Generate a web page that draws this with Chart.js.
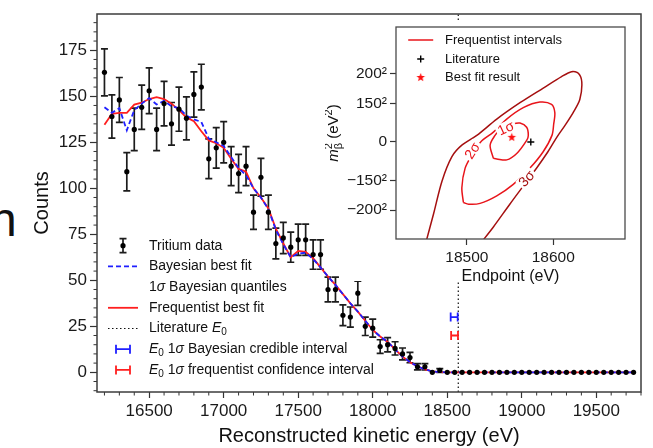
<!DOCTYPE html>
<html>
<head>
<meta charset="utf-8">
<script src="https://cdn.jsdelivr.net/npm/chart.js@4.4.1/dist/chart.umd.min.js"></script>
<style>
  html, body { margin: 0; padding: 0; background: #fff; }
  #wrap { position: relative; width: 653px; height: 448px; overflow: hidden; }
  #main { position: absolute; left: 0; top: 0; }
  #inset { position: absolute; left: 325px; top: 21px; }
  #frag { position: absolute; left: -10px; top: 196px; font: 48px 'Liberation Sans', Arial, sans-serif; line-height: 48px; color: #111; }
</style>
</head>
<body>
<div id="wrap">
  <span id="frag">n</span>
  <canvas id="main" width="653" height="448"></canvas>
  <canvas id="inset" width="315" height="265"></canvas>
</div>
<script>
const FONT = "'Liberation Sans', Arial, Helvetica, sans-serif";

// ---- main spectrum ----
const energy = [
  16200, 16250, 16300, 16350, 16400, 16450, 16500, 16550, 16600, 16650,
  16700, 16750, 16800, 16850, 16900, 16950, 17000, 17050, 17100, 17150,
  17200, 17250, 17300, 17350, 17400, 17450, 17500, 17550, 17600, 17650,
  17700, 17750, 17800, 17850, 17900, 17950, 18000, 18050, 18100, 18150,
  18200, 18250, 18300, 18350, 18400, 18450, 18500, 18550, 18600, 18650,
  18700, 18750, 18800, 18850, 18900, 18950, 19000, 19050, 19100, 19150,
  19200, 19250, 19300, 19350, 19400, 19450, 19500, 19550, 19600, 19650,
  19700, 19750
];
const counts = [
  163, 139, 148, 109, 132, 144, 153, 132, 146, 135,
  143, 138, 151, 155, 116, 122, 125, 112, 108, 112,
  87, 106, 87, 70, 73, 68, 72, 72, 64, 64,
  45, 45, 31, 30, 43, 25, 24, 14, 15, 13,
  10, 8, 3, 3, 0, 1, 0, 0, 0, 0,
  0, 0, 0, 0, 0, 0, 0, 0, 0, 0,
  0, 0, 0, 0, 0, 0, 0, 0, 0, 0,
  0, 0
];
const countErr = [
  12.8, 11.8, 12.2, 10.4, 11.5, 12.0, 12.4, 11.5, 12.1, 11.6,
  12.0, 11.7, 12.3, 12.4, 10.8, 11.0, 11.2, 10.6, 10.4, 10.6,
  9.3, 10.3, 9.3, 8.4, 8.5, 8.2, 8.5, 8.5, 8.0, 8.0,
  6.7, 6.7, 5.6, 5.5, 6.6, 5.0, 4.9, 3.7, 3.9, 3.6,
  3.2, 2.8, 1.7, 1.7, 0, 1.0, 0, 0, 0, 0,
  0, 0, 0, 0, 0, 0, 0, 0, 0, 0,
  0, 0, 0, 0, 0, 0, 0, 0, 0, 0,
  0, 0
];
const freqFit = [
  134.5, 140.5, 141, 141, 145.5, 146.5, 148.5, 149.5, 148.5, 146,
  142.5, 138.5, 136.5, 131, 126, 124.5, 122, 116, 110.5, 109,
  100, 95, 89, 78, 70, 62.5, 66, 65.5, 62, 57,
  52, 47.5, 42.5, 37.5, 33, 28, 23, 19.5, 16.5, 12.5,
  8.5, 5.5, 3.2, 1.6, 0.5, 0.1, 0, 0, 0, 0,
  0, 0, 0, 0, 0, 0, 0, 0, 0, 0,
  0, 0, 0, 0, 0, 0, 0, 0, 0, 0,
  0, 0
];
const bayesFit = [
  144, 141, 143.5, 131.5, 142.5, 146, 149, 145.5, 147.5, 144.5,
  143.5, 139.5, 137.5, 136, 127, 125, 123, 117, 111, 107,
  100, 95, 88.5, 77.5, 69.5, 62.5, 64.5, 65, 61.5, 57,
  52, 47.5, 42.5, 37.5, 33, 28, 23, 19.5, 16.5, 12.5,
  8.5, 5.5, 3.2, 1.6, 0.5, 0.1, 0, 0, 0, 0,
  0, 0, 0, 0, 0, 0, 0, 0, 0, 0,
  0, 0, 0, 0, 0, 0, 0, 0, 0, 0,
  0, 0
];
const literatureE0 = 18574;
const bayesE0 = [18523, 18570];   // 1 sigma credible interval
const freqE0 = [18526, 18572];    // 1 sigma confidence interval
const bayesE0Row = 30;            // height (counts) the interval marks sit at
const freqE0Row = 20;

const xRange = [16150, 19800];
const yRange = [-10.7, 194.7];
const xTicks = [16500, 17000, 17500, 18000, 18500, 19000, 19500];
const yTicks = [0, 25, 50, 75, 100, 125, 150, 175];

// ---- inset: endpoint vs neutrino mass squared ----
const sigma1 = [
  [18530.7, -9600], [18526.9, -1900], [18532.6, 3850], [18538.4, 6900], [18553.7, 10520],
  [18561.5, 11090], [18569.2, 8620], [18571.1, 3850], [18569.2, 980], [18557.7, -6720],
  [18546.1, -10520], [18534.6, -9940], [18530.7, -9600]
];
const sigma2 = [
  [18496, -35500], [18494.2, -26840], [18498, -15340], [18505.8, -7640], [18516, 0],
  [18530.7, 5750], [18546.1, 13390], [18565.3, 20110], [18584.5, 23390], [18598, 22010],
  [18601.8, 17240], [18600.5, 10520], [18598.5, 3850], [18588.3, -5750], [18573, -15340],
  [18553.7, -24880], [18534.6, -31610], [18515.3, -36030], [18502, -36500], [18496, -35500]
];
const sigma3 = [
  [18452, -60000], [18461.5, -42130], [18471.2, -22990], [18482.7, -8620], [18494.2, -1900],
  [18511.5, 3850], [18534.6, 13390], [18561.5, 22990], [18588.4, 31610], [18609.6, 38330],
  [18621.1, 41210], [18629, 40300], [18633, 35060], [18630.7, 24880], [18623, 17240],
  [18613.4, 9600], [18604.2, 2870], [18593.8, -5750], [18581.2, -14940], [18549.9, -36380],
  [18530.7, -49830], [18515, -60000]
];
const literaturePoint = [18574, 0];
const bestFitPoint = [18552, 2700];
const contourLabels = [
  { text: '1σ', x: 18545, y: 8300, angle: -25, color: '#e8141a' },
  { text: '2σ', x: 18506, y: -5000, angle: -58, color: '#e8141a' },
  { text: '3σ', x: 18569, y: -21400, angle: -48, color: '#a50f0f' }
];
const insetXRange = [18418, 18683];
const insetYRange = [-56900, 67400];
const insetXTicks = [18500, 18600];
const insetYTicks = [-40000, -22500, 0, 22500, 40000];
const insetYLabels = ['−200²', '−150²', '0', '150²', '200²'];

const RED = '#ff1f1f';
const BLUE = '#1f1fff';
const pts = (xs, ys) => xs.map((x, i) => ({ x: x, y: ys[i] }));
const pairs = arr => arr.map(p => ({ x: p[0], y: p[1] }));

// draw a run of text pieces: [text, style] with style n / i / sub / sup / supback
function drawRich(ctx, segs, x, y, size, align) {
  const fontFor = st => (st === 'i' ? 'italic ' : '') +
    (st === 'sub' || st === 'sup' || st === 'supback' ? Math.round(size * 0.7) : size) + 'px ' + FONT;
  const placed = [];
  let cx = 0, prevStart = 0;
  segs.forEach(s => {
    ctx.font = fontFor(s[1]);
    const w = ctx.measureText(s[0]).width;
    if (s[1] === 'supback') {
      placed.push([s, prevStart]);
      cx = Math.max(cx, prevStart + w);
    } else {
      placed.push([s, cx]);
      prevStart = cx;
      cx += w;
    }
  });
  const x0 = align === 'center' ? x - cx / 2 : x;
  placed.forEach(([s, off]) => {
    ctx.font = fontFor(s[1]);
    const dy = s[1] === 'sub' ? size * 0.3 : (s[1] === 'sup' || s[1] === 'supback') ? -size * 0.35 : 0;
    ctx.fillText(s[0], x0 + off, y + dy);
  });
}

function starCanvas(r, color) {
  const c = document.createElement('canvas');
  c.width = c.height = Math.ceil(r * 2 + 2);
  const g = c.getContext('2d');
  g.fillStyle = color;
  g.beginPath();
  for (let k = 0; k < 10; k++) {
    const rr = k % 2 ? r * 0.42 : r;
    const a = -Math.PI / 2 + k * Math.PI / 5;
    g.lineTo(c.width / 2 + rr * Math.cos(a), c.height / 2 + rr * Math.sin(a));
  }
  g.closePath();
  g.fill();
  return c;
}
const star = starCanvas(4.5, '#ff1010');

// no extra room for the end tick labels: the plot box is placed by hand
const noPad = s => { s.paddingTop = 0; s.paddingBottom = 0; s.paddingLeft = 0; s.paddingRight = 0; };

const minorTicks = {
  id: 'minorTicks',
  afterDraw(chart, args, o) {
    const { ctx, chartArea: a, scales: { x, y } } = chart;
    ctx.save();
    ctx.strokeStyle = '#333';
    ctx.lineWidth = 1;
    ctx.beginPath();
    for (let v = Math.ceil(x.min / o.xStep) * o.xStep; v <= x.max; v += o.xStep) {
      if (v % o.xMajor === 0) continue;
      const px = x.getPixelForValue(v);
      ctx.moveTo(px, a.bottom); ctx.lineTo(px, a.bottom + o.len);
    }
    for (let v = Math.ceil(y.min / o.yStep) * o.yStep; v <= y.max; v += o.yStep) {
      if (v % o.yMajor === 0) continue;
      const py = y.getPixelForValue(v);
      ctx.moveTo(a.left, py); ctx.lineTo(a.left - o.len, py);
    }
    ctx.stroke();
    ctx.restore();
  }
};

const frameBox = {
  id: 'frameBox',
  afterDraw(chart, args, o) {
    const { ctx, chartArea: a } = chart;
    ctx.save();
    ctx.strokeStyle = o.color;
    ctx.lineWidth = o.width;
    ctx.strokeRect(a.left, a.top, a.right - a.left, a.bottom - a.top);
    ctx.restore();
  }
};

const errorBars = {
  id: 'errorBars',
  beforeDatasetsDraw(chart) {
    const { ctx, scales: { x, y } } = chart;
    ctx.save();
    ctx.strokeStyle = '#1c1c1c';
    ctx.lineWidth = 1.7;
    ctx.beginPath();
    energy.forEach((e, i) => {
      const err = countErr[i];
      if (!err) return;
      const px = x.getPixelForValue(e);
      const t = y.getPixelForValue(counts[i] + err);
      const b = y.getPixelForValue(counts[i] - err);
      ctx.moveTo(px, t); ctx.lineTo(px, b);
      ctx.moveTo(px - 3.5, t); ctx.lineTo(px + 3.5, t);
      ctx.moveTo(px - 3.5, b); ctx.lineTo(px + 3.5, b);
    });
    ctx.stroke();
    ctx.restore();
  }
};

const endpointMarks = {
  id: 'endpointMarks',
  afterDatasetsDraw(chart) {
    const { ctx, scales: { x, y } } = chart;
    ctx.save();
    ctx.lineWidth = 1.8;
    [[bayesE0, bayesE0Row, BLUE], [freqE0, freqE0Row, RED]].forEach(([iv, row, col]) => {
      const x1 = x.getPixelForValue(iv[0]), x2 = x.getPixelForValue(iv[1]);
      const py = y.getPixelForValue(row);
      ctx.strokeStyle = col;
      ctx.beginPath();
      ctx.moveTo(x1, py); ctx.lineTo(x2, py);
      ctx.moveTo(x1, py - 4.5); ctx.lineTo(x1, py + 4.5);
      ctx.moveTo(x2, py - 4.5); ctx.lineTo(x2, py + 4.5);
      ctx.stroke();
    });
    ctx.restore();
  }
};

const mainLegend = {
  id: 'mainLegend',
  afterDraw(chart) {
    const ctx = chart.ctx;
    const rows = [
      ['err', [['Tritium data', 'n']]],
      ['dash', [['Bayesian best fit', 'n']]],
      ['none', [['1', 'n'], ['σ', 'i'], [' Bayesian quantiles', 'n']]],
      ['line', [['Frequentist best fit', 'n']]],
      ['dot', [['Literature ', 'n'], ['E', 'i'], ['0', 'sub']]],
      ['hblue', [['E', 'i'], ['0', 'sub'], [' 1', 'n'], ['σ', 'i'], [' Bayesian credible interval', 'n']]],
      ['hred', [['E', 'i'], ['0', 'sub'], [' 1', 'n'], ['σ', 'i'], [' frequentist confidence interval', 'n']]]
    ];
    const hx = 123, tx = 149, y0 = 245.7, dy = 20.7;
    ctx.save();
    ctx.textBaseline = 'middle';
    ctx.textAlign = 'left';
    rows.forEach(([kind, segs], i) => {
      const y = y0 + i * dy;
      ctx.setLineDash([]);
      ctx.lineWidth = 1.8;
      if (kind === 'err') {
        ctx.strokeStyle = '#1c1c1c';
        ctx.lineWidth = 1.7;
        ctx.beginPath();
        ctx.moveTo(hx, y - 7); ctx.lineTo(hx, y + 7);
        ctx.moveTo(hx - 3.5, y - 7); ctx.lineTo(hx + 3.5, y - 7);
        ctx.moveTo(hx - 3.5, y + 7); ctx.lineTo(hx + 3.5, y + 7);
        ctx.stroke();
        ctx.fillStyle = '#000';
        ctx.beginPath(); ctx.arc(hx, y, 2.6, 0, Math.PI * 2); ctx.fill();
      } else if (kind === 'dash' || kind === 'line' || kind === 'dot') {
        ctx.strokeStyle = kind === 'dash' ? BLUE : kind === 'line' ? RED : '#111';
        if (kind === 'dash') ctx.setLineDash([5, 3]);
        if (kind === 'dot') { ctx.setLineDash([1.5, 2.5]); ctx.lineWidth = 1.2; }
        ctx.beginPath(); ctx.moveTo(hx - 15, y); ctx.lineTo(hx + 15, y); ctx.stroke();
      } else if (kind === 'hblue' || kind === 'hred') {
        ctx.strokeStyle = kind === 'hblue' ? BLUE : RED;
        ctx.beginPath();
        ctx.moveTo(hx - 7, y); ctx.lineTo(hx + 7, y);
        ctx.moveTo(hx - 7, y - 4.5); ctx.lineTo(hx - 7, y + 4.5);
        ctx.moveTo(hx + 7, y - 4.5); ctx.lineTo(hx + 7, y + 4.5);
        ctx.stroke();
      }
      ctx.setLineDash([]);
      ctx.fillStyle = '#111';
      drawRich(ctx, segs, tx, y, 14, 'left');
    });
    ctx.restore();
  }
};

Chart.defaults.font.family = FONT;

new Chart(document.getElementById('main'), {
  type: 'scatter',
  data: {
    datasets: [
      { label: 'Tritium data', data: pts(energy, counts), pointRadius: 2.6, pointBackgroundColor: '#000',
        pointBorderWidth: 0, showLine: false },
      { label: 'Bayesian best fit', data: pts(energy, bayesFit), showLine: true, borderColor: BLUE,
        borderWidth: 1.8, borderDash: [5, 3], pointRadius: 0 },
      { label: 'Frequentist best fit', data: pts(energy, freqFit), showLine: true, borderColor: RED,
        borderWidth: 1.8, pointRadius: 0 },
      { label: 'Literature E0', data: pts([literatureE0, literatureE0], yRange), showLine: true,
        borderColor: '#111', borderWidth: 1.2, borderDash: [1.5, 2.5], pointRadius: 0 }
    ]
  },
  options: {
    responsive: false,
    animation: false,
    devicePixelRatio: 1,
    layout: { padding: { top: 14, right: 12, left: 0, bottom: 0 } },
    plugins: {
      legend: { display: false },
      tooltip: { enabled: false },
      minorTicks: { xStep: 100, xMajor: 500, yStep: 5, yMajor: 25, len: 3.5 },
      frameBox: { color: '#3c3c3c', width: 1.5 }
    },
    scales: {
      x: {
        type: 'linear', min: xRange[0], max: xRange[1],
        afterBuildTicks: s => { s.ticks = xTicks.map(v => ({ value: v })); },
        afterFit: s => { s.height = 56; noPad(s); },
        ticks: { font: { size: 17 }, color: '#1a1a1a', padding: 3, maxRotation: 0, autoSkip: false,
          callback: v => String(v) },
        grid: { display: true, drawOnChartArea: false, tickLength: 6, tickColor: '#333', tickWidth: 1.2 },
        border: { display: false },
        title: { display: true, text: 'Reconstructed kinetic energy (eV)', font: { size: 20 }, color: '#111',
          padding: { top: 0, bottom: 0 } }
      },
      y: {
        type: 'linear', min: yRange[0], max: yRange[1],
        afterBuildTicks: s => { s.ticks = yTicks.map(v => ({ value: v })); },
        afterFit: s => { s.width = 97; noPad(s); },
        ticks: { font: { size: 17 }, color: '#1a1a1a', padding: 3, callback: v => String(v) },
        grid: { display: true, drawOnChartArea: false, tickLength: 7, tickColor: '#333', tickWidth: 1.2 },
        border: { display: false },
        title: { display: true, text: 'Counts', font: { size: 20 }, color: '#111', padding: { top: 30, bottom: 0 } }
      }
    }
  },
  plugins: [errorBars, endpointMarks, minorTicks, frameBox, mainLegend]
});

// ---- inset ----
const insetBackground = {
  id: 'insetBackground',
  beforeDraw(chart) {
    const ctx = chart.ctx;
    ctx.save();
    ctx.fillStyle = '#fff';
    ctx.fillRect(18, 0, chart.width - 18, 260);
    ctx.restore();
  }
};

const contourText = {
  id: 'contourText',
  afterDatasetsDraw(chart) {
    const { ctx, scales: { x, y } } = chart;
    ctx.save();
    ctx.font = '14px ' + FONT;
    ctx.textAlign = 'center';
    ctx.textBaseline = 'middle';
    contourLabels.forEach(l => {
      const px = x.getPixelForValue(l.x), py = y.getPixelForValue(l.y);
      const w = ctx.measureText(l.text).width;
      ctx.save();
      ctx.translate(px, py);
      ctx.rotate(l.angle * Math.PI / 180);
      ctx.fillStyle = '#fff';
      ctx.fillRect(-w / 2 - 2, -6, w + 4, 12);
      ctx.fillStyle = l.color;
      ctx.fillText(l.text, 0, 1);
      ctx.restore();
    });
    ctx.restore();
  }
};

const insetLegend = {
  id: 'insetLegend',
  afterDraw(chart) {
    const ctx = chart.ctx;
    const hx = 95.7, tx = 120;
    ctx.save();
    ctx.textBaseline = 'middle';
    ctx.textAlign = 'left';
    ctx.fillStyle = '#111';
    ctx.font = '13px ' + FONT;
    ctx.strokeStyle = '#e8141a';
    ctx.lineWidth = 1.5;
    ctx.beginPath(); ctx.moveTo(hx - 12.5, 19); ctx.lineTo(hx + 12.5, 19); ctx.stroke();
    ctx.fillText('Frequentist intervals', tx, 19);
    ctx.strokeStyle = '#000';
    ctx.lineWidth = 1.4;
    ctx.beginPath();
    ctx.moveTo(hx - 3.5, 38); ctx.lineTo(hx + 3.5, 38);
    ctx.moveTo(hx, 34.5); ctx.lineTo(hx, 41.5);
    ctx.stroke();
    ctx.fillText('Literature', tx, 38);
    ctx.drawImage(star, hx - star.width / 2, 56.5 - star.height / 2);
    ctx.fillText('Best fit result', tx, 56.5);
    ctx.restore();
  }
};

const insetYTitle = {
  id: 'insetYTitle',
  afterDraw(chart) {
    const { ctx, chartArea: a } = chart;
    ctx.save();
    ctx.translate(9, (a.top + a.bottom) / 2);
    ctx.rotate(-Math.PI / 2);
    ctx.fillStyle = '#111';
    ctx.textBaseline = 'middle';
    ctx.textAlign = 'left';
    drawRich(ctx, [['m', 'i'], ['β', 'sub'], ['2', 'supback'], [' (eV', 'n'], ['2', 'sup'], [')', 'n']], 0, 0, 15, 'center');
    ctx.restore();
  }
};

new Chart(document.getElementById('inset'), {
  type: 'scatter',
  data: {
    datasets: [
      { label: 'Best fit result', data: pairs([bestFitPoint]), pointStyle: star, pointRadius: 5 },
      { label: 'Literature', data: pairs([literaturePoint]), pointStyle: 'cross', pointRadius: 3.5,
        borderColor: '#000', borderWidth: 1.4 },
      { label: '1σ', data: pairs(sigma1), showLine: true, borderColor: '#e8141a', borderWidth: 1.5,
        pointRadius: 0, tension: 0.3 },
      { label: '2σ', data: pairs(sigma2), showLine: true, borderColor: '#e8141a', borderWidth: 1.5,
        pointRadius: 0, tension: 0.3 },
      { label: '3σ', data: pairs(sigma3), showLine: true, borderColor: '#a50f0f', borderWidth: 1.5,
        pointRadius: 0, tension: 0.3 }
    ]
  },
  options: {
    responsive: false,
    animation: false,
    devicePixelRatio: 1,
    layout: { padding: { top: 2, right: 15, left: 0, bottom: 0 } },
    plugins: {
      legend: { display: false },
      tooltip: { enabled: false },
      frameBox: { color: '#4a4a4a', width: 1.3 }
    },
    scales: {
      x: {
        type: 'linear', min: insetXRange[0], max: insetXRange[1],
        afterBuildTicks: s => { s.ticks = insetXTicks.map(v => ({ value: v })); },
        afterFit: s => { s.height = 47; noPad(s); },
        ticks: { font: { size: 15.5 }, color: '#1a1a1a', padding: 3, maxRotation: 0, autoSkip: false,
          callback: v => String(v) },
        grid: { display: true, drawOnChartArea: false, tickLength: 6, tickColor: '#333', tickWidth: 1.2 },
        border: { display: false },
        title: { display: true, text: 'Endpoint (eV)', font: { size: 16 }, color: '#111', padding: { top: 0, bottom: 0 } }
      },
      y: {
        type: 'linear', min: insetYRange[0], max: insetYRange[1],
        afterBuildTicks: s => { s.ticks = insetYTicks.map(v => ({ value: v })); },
        afterFit: s => { s.width = 71; noPad(s); },
        ticks: { font: { size: 15.5 }, color: '#1a1a1a', padding: 3, autoSkip: false,
          callback: v => insetYLabels[insetYTicks.indexOf(v)] },
        grid: { display: true, drawOnChartArea: false, tickLength: 6, tickColor: '#333', tickWidth: 1.2 },
        border: { display: false },
        title: { display: false }
      }
    }
  },
  plugins: [insetBackground, contourText, frameBox, insetLegend, insetYTitle]
});
</script>
</body>
</html>
